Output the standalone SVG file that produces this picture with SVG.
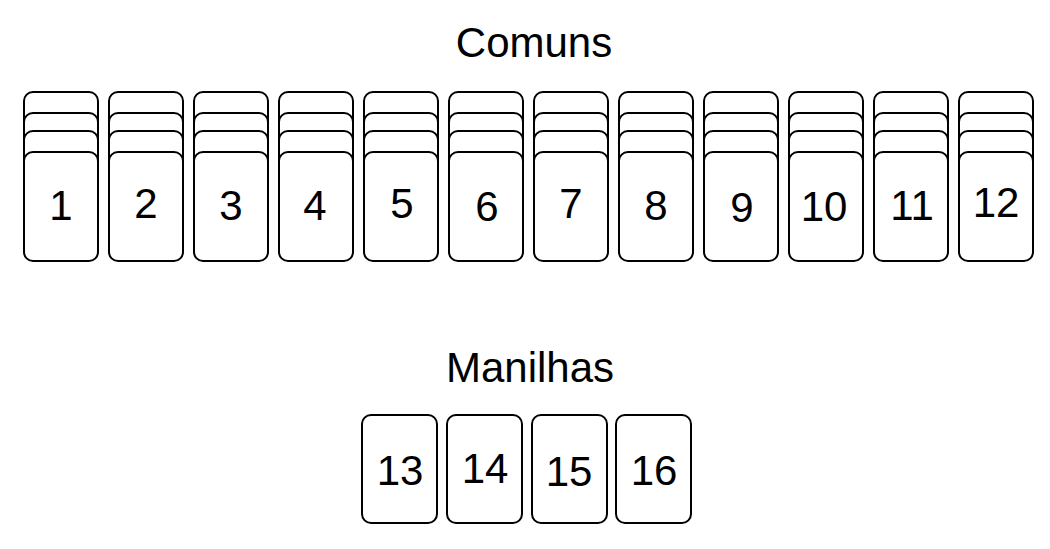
<svg xmlns="http://www.w3.org/2000/svg" width="1050" height="549" viewBox="0 0 1050 549">
<defs>
<style>
.c{fill:#fff;stroke:#000;stroke-width:2}
.t{font-family:"Liberation Sans",Arial,sans-serif;font-size:42px;fill:#000;text-anchor:middle}
</style>
<g id="stack">
<rect class="c" x="0" y="0" width="74" height="109" rx="9"/>
<rect class="c" x="0" y="21" width="74" height="109" rx="9"/>
<rect class="c" x="0" y="39" width="74" height="109" rx="9"/>
<rect class="c" x="0" y="60" width="74" height="109" rx="9"/>
</g>
</defs>
<rect width="1050" height="549" fill="#fff"/>
<text class="t" x="534" y="57">Comuns</text>
<text class="t" x="530" y="382">Manilhas</text>
<g id="card1"><use href="#stack" x="24" y="92"/><text class="t" x="61" y="220">1</text></g>
<g id="card2"><use href="#stack" x="109" y="92"/><text class="t" x="146" y="218">2</text></g>
<g id="card3"><use href="#stack" x="194" y="92"/><text class="t" x="231" y="220">3</text></g>
<g id="card4"><use href="#stack" x="279" y="92"/><text class="t" x="315" y="220">4</text></g>
<g id="card5"><use href="#stack" x="364" y="92"/><text class="t" x="402" y="218">5</text></g>
<g id="card6"><use href="#stack" x="449" y="92"/><text class="t" x="487" y="221">6</text></g>
<g id="card7"><use href="#stack" x="534" y="92"/><text class="t" x="571" y="218">7</text></g>
<g id="card8"><use href="#stack" x="619" y="92"/><text class="t" x="656" y="220">8</text></g>
<g id="card9"><use href="#stack" x="704" y="92"/><text class="t" x="742" y="222">9</text></g>
<g id="card10"><use href="#stack" x="789" y="92"/><text class="t" x="824" y="221">10</text></g>
<g id="card11"><use href="#stack" x="874" y="92"/><text class="t" x="912" y="220">11</text></g>
<g id="card12"><use href="#stack" x="959" y="92"/><text class="t" x="996" y="217">12</text></g>
<g id="card13"><rect class="c" x="362" y="415" width="75" height="108" rx="9"/><text class="t" x="400" y="485">13</text></g>
<g id="card14"><rect class="c" x="447" y="415" width="75" height="108" rx="9"/><text class="t" x="485" y="483">14</text></g>
<g id="card15"><rect class="c" x="532" y="415" width="75" height="108" rx="9"/><text class="t" x="569" y="486">15</text></g>
<g id="card16"><rect class="c" x="616" y="415" width="75" height="108" rx="9"/><text class="t" x="654" y="485">16</text></g>
<g id="connectors"/>
</svg>
